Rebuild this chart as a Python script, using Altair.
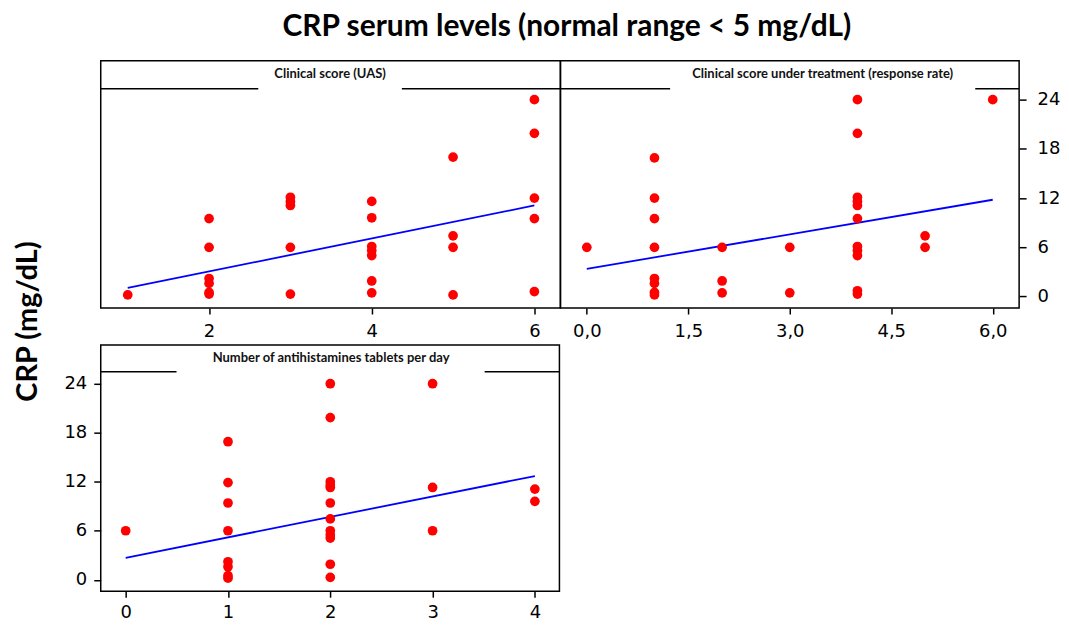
import altair as alt
import pandas as pd

# ---- data ----
# Panel 1: Clinical score (UAS)
uas_x = [1, 2, 2, 2, 2, 2, 2, 3, 3, 3, 3, 3, 4, 4, 4, 4, 4, 4, 4, 5, 5, 5, 5, 6, 6, 6, 6, 6]
uas_y = [0.2, 9.5, 6.0, 2.2, 1.6, 0.5, 0.3, 12.1, 11.6, 11.1, 6.0, 0.3,
         11.6, 9.6, 6.1, 5.6, 5.0, 1.9, 0.45, 17.0, 7.4, 6.0, 0.2,
         24.0, 19.9, 12.0, 9.5, 0.6]
uas_fit_x = [1, 6]
uas_fit_y = [1.05, 11.1]

# Panel 2: Clinical score under treatment (response rate)
resp_x = [0, 1, 1, 1, 1, 1, 1, 1, 1, 2, 2, 2, 3, 3,
          4, 4, 4, 4, 4, 4, 4, 4, 4, 4, 4, 5, 5, 6]
resp_y = [6.0, 16.9, 12.0, 9.5, 6.0, 2.2, 1.6, 0.5, 0.2, 6.0, 1.9, 0.45, 6.0, 0.45,
          24.0, 19.9, 12.1, 11.6, 11.1, 9.5, 6.1, 5.6, 5.0, 0.7, 0.3, 7.4, 6.0, 24.0]
resp_fit_x = [0, 6]
resp_fit_y = [3.37, 11.8]

# Panel 3: Number of antihistamines tablets per day
tab_x = [0, 1, 1, 1, 1, 1, 1, 1, 1,
         2, 2, 2, 2, 2, 2, 2, 2, 2, 2, 2, 2, 3, 3, 3, 4, 4]
tab_y = [6.0, 16.9, 11.9, 9.4, 6.0, 2.2, 1.6, 0.5, 0.2,
         24.0, 19.85, 12.0, 11.6, 11.3, 9.4, 7.45, 6.0, 5.5, 5.1, 1.9, 0.3,
         24.0, 11.3, 6.0, 11.1, 9.6]
tab_fit_x = [0, 4]
tab_fit_y = [2.69, 12.7]

y_ticks = [0, 6, 12, 18, 24]
TICK_FONT = "DejaVu Sans"


def x_axis(values, label_expr=None, pad=9):
    kw = dict(values=values, domain=False, grid=False, title=None, tickSize=6,
              tickColor="black", tickWidth=1.5, labelFont=TICK_FONT, labelFontSize=18,
              labelColor="black", labelPadding=pad, labelFlush=False, labelOverlap=False)
    if label_expr:
        kw["labelExpr"] = label_expr
    else:
        kw["format"] = "d"
    return alt.Axis(**kw)


def y_axis(orient, title=None):
    kw = dict(values=y_ticks, orient=orient, domain=False, grid=False, tickSize=7,
              tickColor="black", tickWidth=1.5, labelFont=TICK_FONT, labelFontSize=18,
              labelColor="black", labelPadding=(11 if orient == "right" else 7),
              format="d", labelFlush=False)
    if title:
        kw.update(title=title, titleFont="Lato", titleFontSize=29, titleFontWeight="bold",
                  titleColor="black", titleAngle=270, titleAlign="center",
                  titleBaseline="middle", titleX=-73, titleY=-24)
    else:
        kw["title"] = None
    return alt.Axis(**kw)


def panel(xs, ys, fx, fy, xdom, xaxis, yaxis, header, hx, gap, width, height, hy):
    pts_df = pd.DataFrame({"x": xs, "y": ys})
    fit_df = pd.DataFrame({"x": fx, "y": fy})
    one = pd.DataFrame({"k": [0]})
    xs_ = alt.Scale(domain=xdom, nice=False, zero=False)
    ys_ = alt.Scale(domain=[-1.4, 28.75], nice=False, zero=False)
    X = alt.X("x:Q", scale=xs_, axis=xaxis)
    Y = alt.Y("y:Q", scale=ys_, axis=yaxis)
    line = alt.Chart(fit_df).mark_line(color="#0000ff", strokeWidth=1.8).encode(x=X, y=Y)
    pts = alt.Chart(pts_df).mark_circle(size=95, color="#ff0000", opacity=1).encode(x=X, y=Y)
    r1 = alt.Chart(one).mark_rule(color="black", strokeWidth=1.5).encode(
        x=alt.value(0), x2=alt.value(gap[0]), y=alt.value(hy))
    r2 = alt.Chart(one).mark_rule(color="black", strokeWidth=1.5).encode(
        x=alt.value(gap[1]), x2=alt.value(width), y=alt.value(hy))
    txt = alt.Chart(one).mark_text(text=header, font="Lato", fontWeight="bold", fontSize=13,
                                   color="#111111", align="center", baseline="middle").encode(
        x=alt.value(hx), y=alt.value(13))
    return alt.layer(line, pts, r1, r2, txt).properties(width=width, height=height)


p1 = panel(uas_x, uas_y, uas_fit_x, uas_fit_y, [0.668, 6.32], x_axis([2, 4, 6]), None,
           "Clinical score (UAS)", 230, (158, 302), 461, 248, 28)
p2 = panel(resp_x, resp_y, resp_fit_x, resp_fit_y, [-0.39, 6.39],
           x_axis([0, 1.5, 3, 4.5, 6], "replace(format(datum.value, '.1f'), '.', ',')"),
           y_axis("right"),
           "Clinical score under treatment (response rate)", 263, (110, 416), 460, 248, 28)
p3 = panel(tab_x, tab_y, tab_fit_x, tab_fit_y, [-0.244, 4.24], x_axis([0, 1, 2, 3, 4], pad=6),
           y_axis("left", "CRP (mg/dL)"),
           "Number of antihistamines tablets per day", 231, (76, 385), 460, 247, 27)

chart = alt.concat(p1, p2, p3, columns=2, spacing={"row": 37, "column": 0}, bounds="flush").properties(
    title=alt.TitleParams("CRP serum levels (normal range < 5 mg/dL)", font="Lato", fontSize=30,
                          fontWeight="bold", color="black", anchor="middle", offset=18, dx=30),
    padding={"left": 5, "top": 3, "right": 0, "bottom": 0},
    background="white",
).configure_view(stroke="black", strokeWidth=1.5)

chart.save("out.html", embed_options={"renderer": "svg", "actions": False})
